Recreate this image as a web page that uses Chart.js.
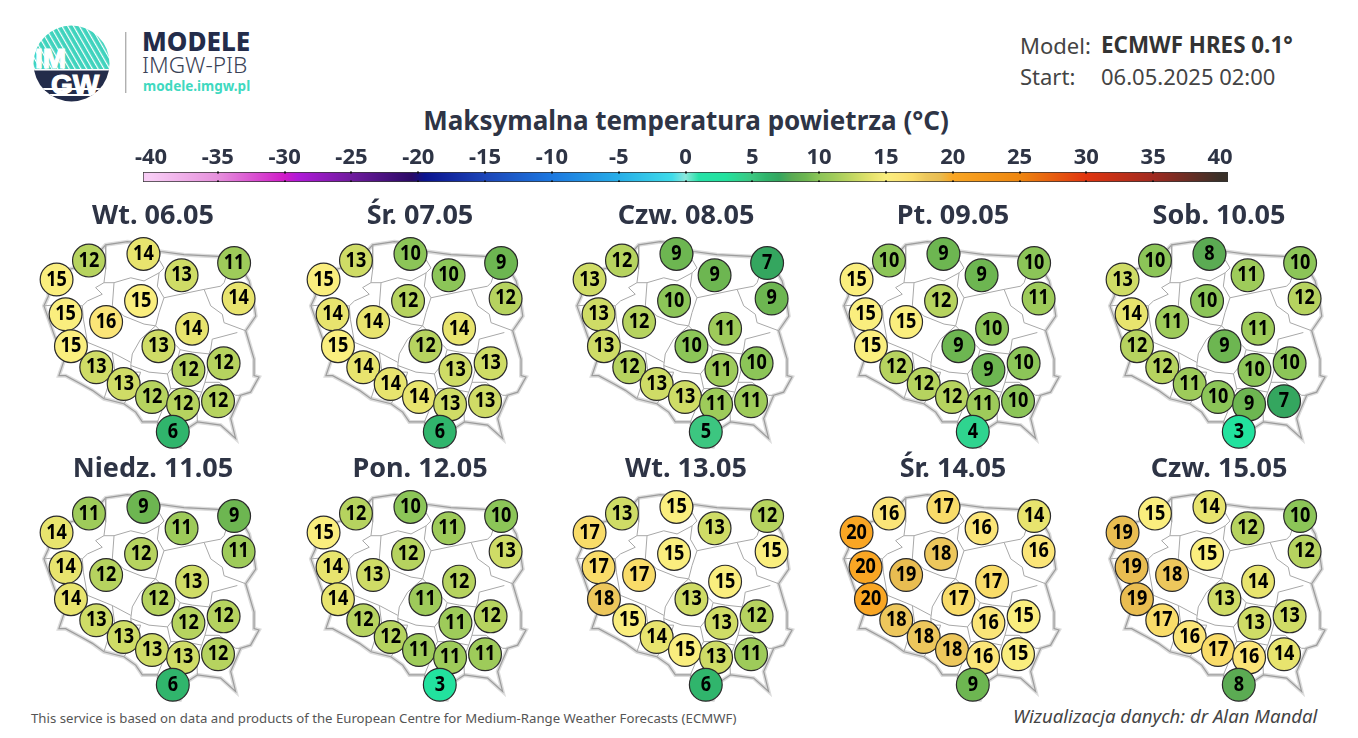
<!DOCTYPE html>
<html>
<head>
<meta charset="utf-8">
<title>Maksymalna temperatura powietrza</title>
<script src="https://cdn.jsdelivr.net/npm/chart.js@4"></script>
<style>
  html, body { margin: 0; padding: 0; background: #fff; }
  body { width: 1358px; height: 738px; position: relative; overflow: hidden; font-family: "Noto Sans", sans-serif; }
  .t { position: absolute; white-space: nowrap; line-height: 1; }
  canvas { position: absolute; }
</style>
</head>
<body>
<svg style="position:absolute;left:0;top:0" width="135" height="110">
  <defs>
    <clipPath id="logoClip"><circle cx="71.5" cy="63.5" r="38"/></clipPath>
    <pattern id="logoStripes" width="5" height="5" patternUnits="userSpaceOnUse" patternTransform="rotate(-30)">
      <rect width="5" height="5" fill="#3fd3bd"/><rect width="1.2" height="5" fill="#fff"/>
    </pattern>
  </defs>
  <g clip-path="url(#logoClip)">
    <rect x="30" y="24" width="84" height="45" fill="url(#logoStripes)"/>
    <rect x="30" y="69" width="84" height="34" fill="#232c4a"/>
    <rect x="30" y="69" width="84" height="1.5" fill="#fff"/>
    <rect x="30" y="88" width="84" height="2" fill="#fff"/>
    <rect x="30" y="94" width="84" height="2" fill="#fff"/>
  </g>
  <text x="35" y="68" font-family="Liberation Sans" font-weight="700" font-size="28" fill="#fff" stroke="#fff" stroke-width="1.2">IM</text>
  <text x="51" y="94" font-family="Liberation Sans" font-weight="700" font-size="28" fill="#fff" stroke="#fff" stroke-width="1.2">GW</text>
  <rect x="125" y="32" width="1.4" height="61" fill="#b0b0b0"/>
</svg>
<div class="t" style="left:142px;top:28px;font-size:26px;font-weight:800;color:#232c4a">MODELE</div>
<div class="t" style="left:142px;top:54px;font-size:22.6px;font-weight:300;color:#3a4256">IMGW-PIB</div>
<div class="t" style="left:143px;top:80px;font-size:13.5px;font-weight:700;color:#3fd9c0">modele.imgw.pl</div>
<div class="t" style="left:1020px;top:34px;font-size:22px;color:#444">Model:</div>
<div class="t" style="left:1101px;top:34px;font-size:22.4px;font-weight:700;color:#333">ECMWF HRES 0.1°</div>
<div class="t" style="left:1020px;top:65px;font-size:22px;color:#444">Start:</div>
<div class="t" style="left:1101px;top:65px;font-size:22px;color:#444">06.05.2025 02:00</div>
<div class="t" style="left:0;width:1372px;text-align:center;top:107px;font-size:26px;font-weight:700;color:#2e3445">Maksymalna temperatura powietrza (°C)</div>
<div class="t" style="left:31px;top:712px;font-size:13.2px;color:#555">This service is based on data and products of the European Centre for Medium-Range Weather Forecasts (ECMWF)</div>
<div class="t" style="left:1013px;top:707px;font-size:18.6px;font-style:italic;color:#444">Wizualizacja danych: dr Alan Mandal</div>

<canvas id="colorbar" width="1170" height="45" style="left:100px;top:137px"></canvas>
<div id="panels"></div>

<script>
// days shown in the small maps
const dayLabels = ['Wt. 06.05', 'Śr. 07.05', 'Czw. 08.05', 'Pt. 09.05', 'Sob. 10.05',
  'Niedz. 11.05', 'Pon. 12.05', 'Wt. 13.05', 'Śr. 14.05', 'Czw. 15.05'];

// forecast points, lon / lat
const stationLon = [16.17, 18.71, 14.66, 20.49, 22.94, 23.15, 15.08, 18.60, 16.97, 20.98,
  15.33, 19.41, 16.51, 20.81, 22.45, 17.79, 19.11, 20.56, 22.19, 20.08];
const stationLat = [54.31, 54.50, 53.77, 53.89, 54.24, 53.23, 52.78, 53.16, 52.56, 52.37,
  51.87, 51.87, 51.27, 51.19, 51.38, 50.79, 50.42, 50.21, 50.30, 49.43];

// max temperature per day, same order as the stations
const tempWt0605   = [12, 14, 15, 13, 11, 14, 15, 15, 16, 14, 15, 13, 13, 12, 12, 13, 12, 12, 12, 6];
const tempSr0705   = [13, 10, 15, 10, 9, 12, 14, 12, 14, 14, 15, 12, 14, 13, 13, 14, 14, 13, 13, 6];
const tempCzw0805  = [12, 9, 13, 9, 7, 9, 13, 10, 12, 11, 13, 10, 12, 11, 10, 13, 13, 11, 11, 5];
const tempPt0905   = [10, 9, 15, 9, 10, 11, 15, 12, 15, 10, 15, 9, 12, 9, 10, 12, 12, 11, 10, 4];
const tempSob1005  = [10, 8, 13, 11, 10, 12, 14, 10, 11, 11, 12, 9, 12, 10, 10, 11, 10, 9, 7, 3];
const tempNie1105  = [11, 9, 14, 11, 9, 11, 14, 12, 12, 13, 14, 12, 13, 12, 12, 13, 13, 13, 12, 6];
const tempPon1205  = [12, 10, 15, 11, 10, 13, 14, 12, 13, 12, 14, 11, 12, 11, 12, 12, 11, 11, 11, 3];
const tempWt1305   = [13, 15, 17, 13, 12, 15, 17, 15, 17, 15, 18, 13, 15, 13, 12, 14, 15, 13, 11, 6];
const tempSr1405   = [16, 17, 20, 16, 14, 16, 20, 18, 19, 17, 20, 17, 18, 16, 15, 18, 18, 16, 15, 9];
const tempCzw1505  = [15, 14, 19, 12, 10, 12, 19, 15, 18, 14, 19, 13, 17, 13, 13, 16, 17, 16, 14, 8];
const dayTemps = [tempWt0605, tempSr0705, tempCzw0805, tempPt0905, tempSob1005,
  tempNie1105, tempPon1205, tempWt1305, tempSr1405, tempCzw1505];

// colour scale
const scaleTicks = [-40, -35, -30, -25, -20, -15, -10, -5, 0, 5, 10, 15, 20, 25, 30, 35, 40];
const colorTemps = [-40, -35, -30, -29, -25, -20.5, -19.5, -15, -10, -5, -1, 0, 1, 3, 5, 6, 7, 8, 9, 10, 11, 12, 13, 14, 15, 16, 17, 18, 19, 20, 25, 30, 35, 40];
const colorHexes = ['#f8ccf5', '#e690dc', '#d01bc8', '#b01ad8', '#6f1b9e', '#2b0a66', '#0b148f', '#1c45b8', '#1c78e0', '#27aee8', '#3fdcea', '#8ce8dc', '#26e2a8', '#22e29e', '#3cc680', '#30b56c', '#34a65f', '#5bab53', '#6db651', '#8cc558', '#9ecb5a', '#b6d35f', '#cfdc66', '#e8e46e', '#faee7e', '#fbe578', '#f9dc69', '#edc75c', '#e9bd51', '#f9a624', '#ee860f', '#e0340f', '#a02a20', '#3a3028'];

// country outline, lon / lat
const outline = [[14.20, 53.87], [15.47, 54.10], [16.48, 54.43], [16.95, 54.76], [17.96, 54.85], [18.55, 54.81], [19.52, 54.57], [20.60, 54.48], [22.16, 54.43], [23.06, 54.34], [23.29, 54.10], [23.64, 53.73], [23.81, 53.30], [23.95, 52.73], [23.48, 52.31], [23.87, 51.50], [23.87, 51.03], [24.10, 50.99], [23.71, 50.56], [23.25, 50.47], [22.78, 49.81], [23.01, 49.24], [22.31, 49.62], [21.23, 49.71], [20.76, 49.52], [20.42, 49.00], [19.79, 49.05], [19.36, 49.71], [18.66, 49.71], [18.35, 49.99], [17.80, 50.23], [16.87, 50.37], [16.33, 50.61], [15.78, 50.80], [15.08, 51.03], [14.77, 51.03], [15.01, 51.46], [14.62, 52.07], [14.07, 53.02], [14.28, 53.30], [14.20, 53.87]];

// voivodeship boundaries, lon / lat
const regionLines = [
  [[16.95, 54.76], [16.95, 54.06], [16.87, 53.68], [16.48, 53.54], [16.79, 53.35], [16.10, 53.16], [15.86, 53.02], [14.90, 53.06], [14.07, 53.02]],
  [[16.87, 53.68], [17.34, 53.68], [18.12, 53.82], [18.74, 53.73], [19.44, 53.96], [19.67, 54.10], [19.44, 54.34], [19.52, 54.57]],
  [[17.34, 53.68], [17.26, 53.02], [17.80, 52.73], [18.74, 52.50], [19.28, 52.45], [19.44, 52.83], [19.67, 53.25], [19.36, 53.58], [19.44, 53.96]],
  [[19.67, 53.25], [21.54, 53.49], [22.31, 53.58], [22.47, 53.68], [22.9, 54.43]],
  [[21.54, 53.49], [21.85, 53.02], [22.39, 52.78], [22.47, 52.54], [23.48, 52.31]],
  [[23.09, 52.26], [21.92, 52.07], [21.85, 51.79], [21.77, 51.65], [21.0, 51.7], [20.42, 51.77], [20.26, 51.88], [19.87, 52.07], [19.28, 52.45]],
  [[19.28, 52.45], [18.58, 52.07], [18.19, 51.65], [18.12, 51.32], [18.97, 51.13], [19.83, 51.08], [20.26, 51.41], [20.42, 51.77]],
  [[15.86, 53.02], [15.91, 52.64], [16.10, 51.98], [15.60, 51.70], [15.01, 51.46]],
  [[16.10, 51.98], [17.26, 51.69], [18.12, 51.41]],
  [[17.26, 51.69], [17.38, 51.13], [17.07, 50.75], [16.87, 50.37]],
  [[18.12, 51.32], [18.16, 51.13], [18.58, 51.13], [18.43, 50.85], [18.58, 50.66], [17.96, 50.37], [17.80, 50.23]],
  [[19.83, 51.08], [19.98, 50.66], [19.64, 50.28], [19.56, 50.0], [19.36, 49.71]],
  [[19.98, 50.66], [20.57, 50.66], [21.43, 50.56], [21.19, 50.18], [21.23, 49.71]],
  [[21.77, 51.65], [21.74, 51.22], [21.58, 50.84], [21.43, 50.56]],
  [[21.58, 50.84], [22.24, 50.84], [23.01, 50.47], [23.25, 50.47]]
];

function hexToRgb(hex) {
  return [1, 3, 5].map(i => parseInt(hex.substr(i, 2), 16));
}

// colour of a temperature on the scale
function tempColor(v) {
  let i = 0;
  while (i < colorTemps.length - 2 && v > colorTemps[i + 1]) i++;
  const k = (v - colorTemps[i]) / (colorTemps[i + 1] - colorTemps[i]);
  const a = hexToRgb(colorHexes[i]), b = hexToRgb(colorHexes[i + 1]);
  return 'rgb(' + a.map((c, n) => Math.round(c + (b[n] - c) * k)).join(',') + ')';
}

function lineDataset(line, color, width) {
  return {
    data: line.map(p => ({x: p[0], y: p[1]})),
    showLine: true, tension: 0, pointRadius: 0,
    borderColor: color, borderWidth: width, clip: false
  };
}

// writes the temperature inside each circle (stations are dataset 0)
const valueLabels = {
  id: 'valueLabels',
  afterDatasetsDraw(chart) {
    const temps = chart.data.datasets[0].temps;
    const ctx = chart.ctx;
    ctx.save();
    ctx.fillStyle = '#000';
    ctx.font = '700 21px "Noto Sans"';
    ctx.textAlign = 'center';
    ctx.textBaseline = 'middle';
    chart.getDatasetMeta(0).data.forEach((pt, i) => {
      ctx.save();
      ctx.translate(pt.x, pt.y);
      ctx.scale(0.86, 1);
      ctx.fillText(temps[i], 0, 0);
      ctx.restore();
    });
    ctx.restore();
  }
};

const panels = document.getElementById('panels');
dayLabels.forEach((label, i) => {
  const canvas = document.createElement('canvas');
  canvas.width = 266;
  canvas.height = 253;
  canvas.style.left = Math.round(20 + 266.5 * (i % 5)) + 'px';
  canvas.style.top = (197 + 253 * Math.floor(i / 5)) + 'px';
  panels.appendChild(canvas);

  const temps = dayTemps[i];
  // first dataset is drawn on top
  const datasets = [{
    data: stationLon.map((lon, n) => ({x: lon, y: stationLat[n]})),
    temps: temps,
    pointRadius: 16.4,
    pointBackgroundColor: temps.map(tempColor),
    pointBorderColor: '#2b2b2b',
    pointBorderWidth: 1.2,
    clip: false
  }];
  regionLines.forEach(line => datasets.push(lineDataset(line, '#a8a8a8', 1)));
  datasets.push(lineDataset(outline, '#9c9c9c', 1.2));
  datasets.push(lineDataset(outline, '#dcdcdc', 4));

  new Chart(canvas.getContext('2d'), {
    type: 'scatter',
    data: {datasets: datasets},
    options: {
      responsive: false,
      animation: false,
      layout: {padding: 0, autoPadding: false},
      plugins: {
        legend: {display: false},
        tooltip: {enabled: false},
        title: {
          display: true,
          text: label,
          color: '#2e3445',
          font: {family: '"Noto Sans"', size: 27, weight: '700'},
          padding: {top: 3, bottom: 4}
        }
      },
      scales: {
        x: {type: 'linear', display: false, min: 12.954, max: 25.36},
        y: {type: 'linear', display: false, min: 48.91, max: 55.0}
      }
    },
    plugins: [valueLabels]
  });
});

// small black notches at each labelled value
const barNotches = {
  id: 'barNotches',
  afterDatasetsDraw(chart) {
    const ctx = chart.ctx, area = chart.chartArea, sx = chart.scales.x;
    ctx.save();
    ctx.fillStyle = '#111';
    scaleTicks.slice(1, -1).forEach(v => {
      const px = Math.round(sx.getPixelForValue(v));
      ctx.fillRect(px - 1, area.top - 0.5, 2, 2);
      ctx.fillRect(px - 1, area.bottom - 1.5, 2, 2);
    });
    ctx.restore();
  }
};

new Chart(document.getElementById('colorbar').getContext('2d'), {
  type: 'bar',
  data: {
    labels: [''],
    datasets: [{
      data: [[-40.6, 40.6]],
      borderColor: '#333',
      borderWidth: 1,
      borderSkipped: false,
      barPercentage: 1,
      categoryPercentage: 1,
      backgroundColor(c) {
        const area = c.chart.chartArea;
        if (!area) return '#888';
        const g = c.chart.ctx.createLinearGradient(area.left, 0, area.right, 0);
        colorTemps.forEach((t, i) => g.addColorStop((t + 40.6) / 81.2, colorHexes[i]));
        return g;
      }
    }]
  },
  options: {
    indexAxis: 'y',
    responsive: false,
    animation: false,
    layout: {padding: {left: 43, right: 42, top: 5, bottom: 0}, autoPadding: false},
    plugins: {legend: {display: false}, tooltip: {enabled: false}},
    scales: {
      y: {display: false},
      x: {
        position: 'top',
        min: -40.6,
        max: 40.6,
        afterBuildTicks(axis) { axis.ticks = scaleTicks.map(v => ({value: v})); },
        // the axis would otherwise be limited to half of the canvas height
        afterFit(axis) { axis.height = 30; },
        grid: {display: false, drawTicks: false},
        border: {display: false},
        ticks: {
          autoSkip: false,
          maxRotation: 0,
          padding: 1,
          color: '#2e3445',
          font: {family: '"Noto Sans"', size: 22, weight: '700'},
          callback: v => String(v)
        }
      }
    }
  },
  plugins: [barNotches]
});
</script>
</body>
</html>
